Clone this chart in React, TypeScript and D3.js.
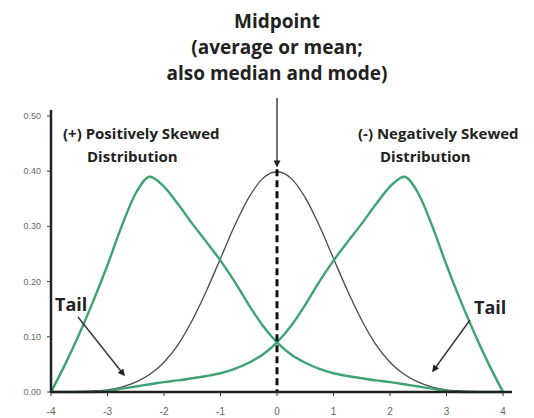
import * as d3 from 'd3';

// x grid shared by all three curves
const xValues = [-4, -3.75, -3.5, -3.25, -3, -2.75, -2.5, -2.25, -2, -1.75, -1.5, -1.25, -1, -0.75, -0.5, -0.25, 0,
  0.25, 0.5, 0.75, 1, 1.25, 1.5, 1.75, 2, 2.25, 2.5, 2.75, 3, 3.25, 3.5, 3.75, 4];

// symmetric (normal) curve
const normalValues = [0, 0.0002, 0.001, 0.002, 0.004, 0.009, 0.018, 0.032, 0.054, 0.086, 0.13, 0.183, 0.242, 0.301, 0.352, 0.387, 0.399,
  0.387, 0.352, 0.301, 0.242, 0.183, 0.13, 0.086, 0.054, 0.032, 0.018, 0.009, 0.004, 0.002, 0.001, 0.0002, 0];

// (+) positively skewed
const positiveValues = [0, 0.05, 0.105, 0.165, 0.23, 0.3, 0.36, 0.39, 0.372, 0.34, 0.305, 0.272, 0.238, 0.2, 0.158, 0.12, 0.09,
  0.068, 0.053, 0.042, 0.034, 0.029, 0.025, 0.021, 0.018, 0.014, 0.01, 0.006, 0.002, 0, 0, 0, 0];

// (-) negatively skewed
const negativeValues = [0, 0, 0, 0, 0.002, 0.006, 0.01, 0.014, 0.018, 0.021, 0.025, 0.029, 0.034, 0.042, 0.053, 0.068, 0.09,
  0.12, 0.158, 0.2, 0.238, 0.272, 0.305, 0.34, 0.372, 0.39, 0.36, 0.3, 0.23, 0.165, 0.105, 0.05, 0];

const xTicks = [-4, -3, -2, -1, 0, 1, 2, 3, 4];
const yTicks = [0, 0.1, 0.2, 0.3, 0.4, 0.5];

const titleLines = ['Midpoint', '(average or mean;', 'also median and mode)'];
const leftLabel = ['(+) Positively Skewed', 'Distribution'];
const rightLabel = ['(-) Negatively Skewed', 'Distribution'];

const GREEN = '#3fa275';
const FONT = "'Open Sans', 'DejaVu Sans', sans-serif";

export default function App() {
  const width = 534;
  const height = 418;

  const x = d3.scaleLinear().domain([-4, 4]).range([51, 503]);
  const y = d3.scaleLinear().domain([0, 0.5]).range([392, 116]);

  const line = d3.line<number>()
    .x((_, i) => x(xValues[i]))
    .y(d => y(d))
    .curve(d3.curveMonotoneX);

  return (
    <svg width={width} height={height} style={{ position: 'absolute', left: 0, top: 0, background: '#fff' }}>
      <defs>
        <marker id="head" viewBox="0 0 10 10" refX="8" refY="5" markerWidth="5" markerHeight="5" orient="auto">
          <path d="M0,0 L10,5 L0,10 z" fill="#222" />
        </marker>
      </defs>

      {/* curves */}
      <path d={line(normalValues) ?? ''} fill="none" stroke="#4a4a4a" strokeWidth={1.3} />
      <path d={line(positiveValues) ?? ''} fill="none" stroke={GREEN} strokeWidth={2.4} />
      <path d={line(negativeValues) ?? ''} fill="none" stroke={GREEN} strokeWidth={2.4} />

      {/* midpoint arrow + dashed line */}
      <line x1={x(0)} x2={x(0)} y1={98} y2={166} stroke="#333" strokeWidth={1.4} markerEnd="url(#head)" />
      <line x1={x(0)} x2={x(0)} y1={y(0.4) - 2} y2={y(0)} stroke="#111" strokeWidth={3} strokeDasharray="7 4" />

      {/* axes */}
      <line x1={x(-4)} x2={512} y1={y(0)} y2={y(0)} stroke="#222" strokeWidth={2.5} />
      <line x1={x(-4)} x2={x(-4)} y1={110} y2={y(0) + 1} stroke="#222" strokeWidth={2.5} />
      {xTicks.map(t => (
        <g key={'x' + t}>
          <line x1={x(t)} x2={x(t)} y1={y(0)} y2={y(0) + 4} stroke="#333" strokeWidth={1} />
          <text x={x(t)} y={415} textAnchor="middle" fontSize={10} fill="#666" fontFamily="Arial, 'Liberation Sans', sans-serif">{t}</text>
        </g>
      ))}
      {yTicks.map(t => (
        <g key={'y' + t}>
          <line x1={x(-4) - 4} x2={x(-4)} y1={y(t)} y2={y(t)} stroke="#333" strokeWidth={1} />
          <text x={41} y={y(t) + 3} textAnchor="end" fontSize={9} fill="#666" fontFamily="Arial, 'Liberation Sans', sans-serif">{t.toFixed(2)}</text>
        </g>
      ))}

      {/* title */}
      {titleLines.map((s, i) => (
        <text key={s} x={x(0)} y={28 + i * 26} textAnchor="middle" fontSize={19} fontWeight="bold" fill="#222" fontFamily={FONT}>{s}</text>
      ))}

      {/* distribution labels */}
      {leftLabel.map((s, i) => (
        <text key={s + i} x={i === 0 ? 63 : 87} y={139 + i * 23} fontSize={15} fontWeight="bold" fill="#222" fontFamily={FONT}>{s}</text>
      ))}
      {rightLabel.map((s, i) => (
        <text key={s + i} x={i === 0 ? 358 : 380} y={139 + i * 23} fontSize={15} fontWeight="bold" fill="#222" fontFamily={FONT}>{s}</text>
      ))}

      {/* tails */}
      <text x={55} y={311} fontSize={18} fontWeight="bold" fill="#222" fontFamily={FONT}>Tail</text>
      <line x1={78} y1={317} x2={124} y2={375} stroke="#333" strokeWidth={1.4} markerEnd="url(#head)" />
      <text x={474} y={314} fontSize={18} fontWeight="bold" fill="#222" fontFamily={FONT}>Tail</text>
      <line x1={470} y1={320} x2={433} y2={371} stroke="#333" strokeWidth={1.4} markerEnd="url(#head)" />
    </svg>
  );
}
